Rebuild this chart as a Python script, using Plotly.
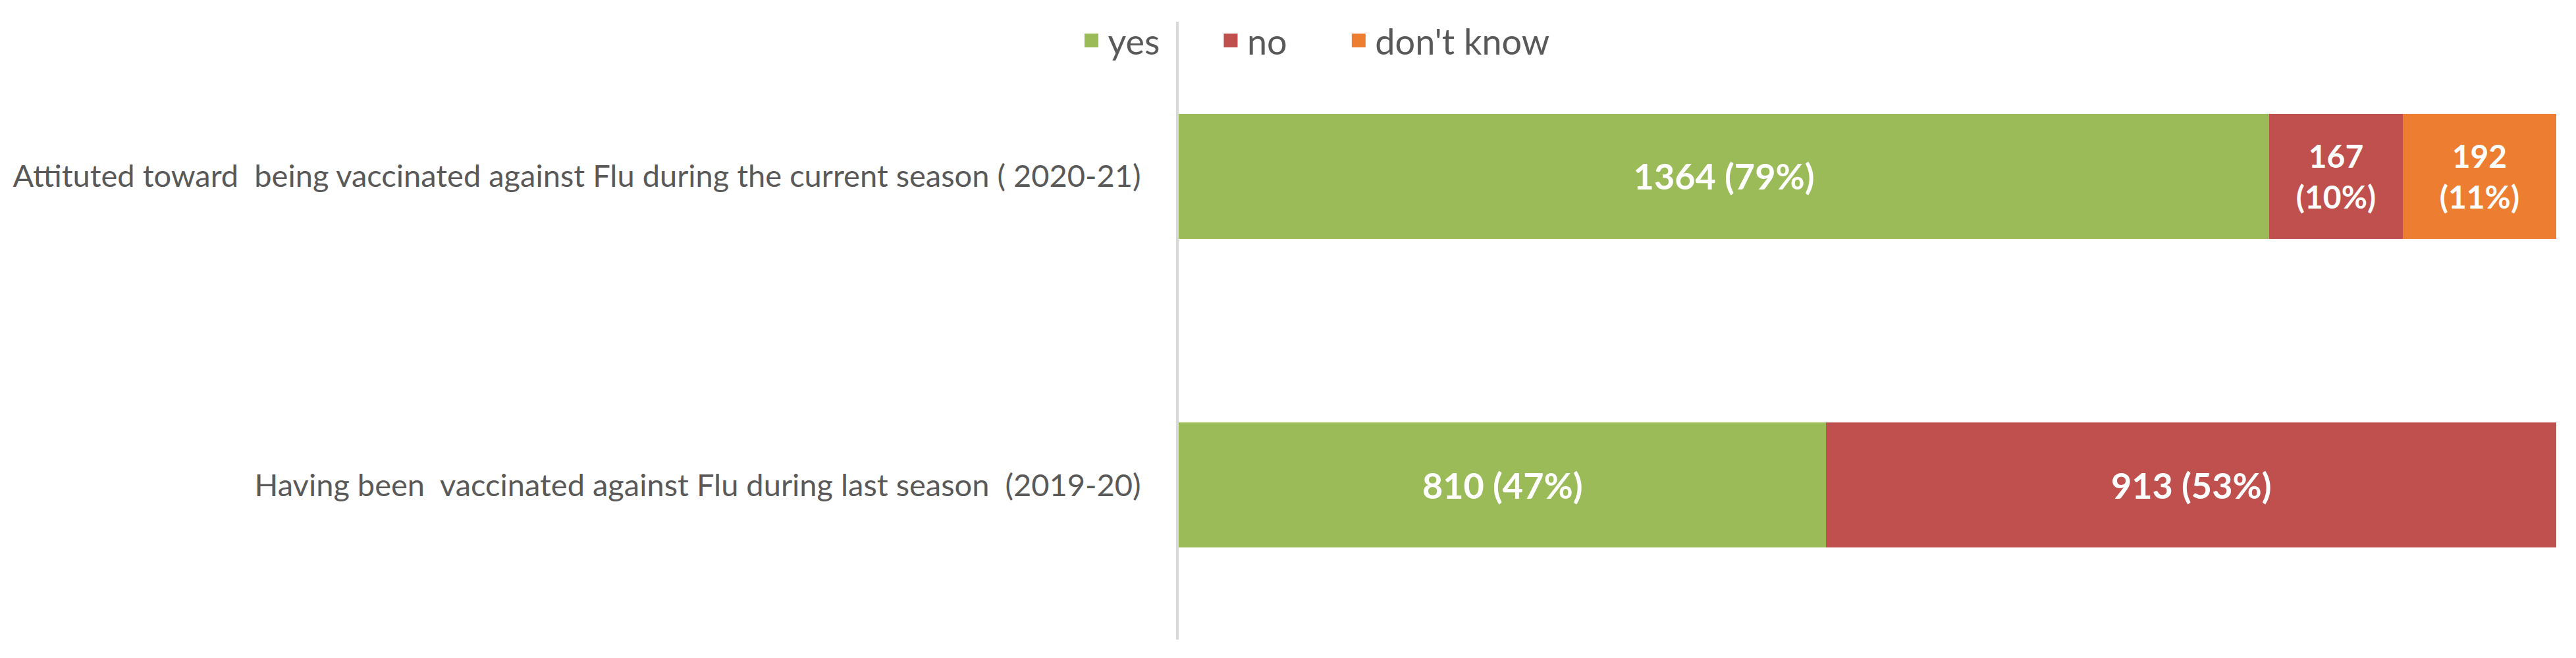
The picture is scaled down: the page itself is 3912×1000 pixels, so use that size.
import plotly.graph_objects as go

categories = [
    "Attituted toward  being vaccinated against Flu during the current season ( 2020-21)",
    "Having been  vaccinated against Flu during last season  (2019-20)",
]
series_names = ["yes", "no", "don't know"]
yes_counts = [1364, 810]
no_counts = [167, 913]
dk_counts = [192, None]
yes_pct = [79, 47]
no_pct = [10, 53]
dk_pct = [11, None]
colors = ["#9BBB59", "#C0504D", "#ED7D31"]

totals = [sum(v for v in vals if v is not None) for vals in zip(yes_counts, no_counts, dk_counts)]


def labels(counts, pcts):
    txt, sizes = [], []
    for c, p, t in zip(counts, pcts, totals):
        if c is None:
            txt.append("")
            sizes.append(48)
        elif c / t < 0.2:
            txt.append(f"{c}<br>({p}%)")
            sizes.append(48)
        else:
            txt.append(f"{c} ({p}%)")
            sizes.append(54)
    return txt, sizes


legend_ids = ["legend", "legend2", "legend3"]
legend_x = [-0.0753, 0.0258, 0.1187]

fig = go.Figure()
for name, counts, pcts, col, lid in zip(series_names, [yes_counts, no_counts, dk_counts],
                                        [yes_pct, no_pct, dk_pct], colors, legend_ids):
    txt, sizes = labels(counts, pcts)
    fig.add_trace(go.Bar(
        name=name, y=categories, x=counts, orientation="h",
        marker=dict(color=col, line=dict(width=0)),
        text=txt, textposition="inside",
        insidetextanchor="middle", textangle=0,
        textfont=dict(family="Lato", size=sizes, color="white", weight="bold"),
        hoverinfo="skip", width=0.405, showlegend=False,
    ))
    # legend key (no data points of its own)
    fig.add_trace(go.Scatter(
        name=name, x=[None], y=[None], mode="markers",
        marker=dict(symbol="square", size=16, color=col, line=dict(width=5, color=col)),
        hoverinfo="skip", showlegend=True, legend=lid,
    ))

legend_common = dict(orientation="h", xanchor="left", y=0.9692, yanchor="middle",
                     font=dict(size=54, color="#595959"), bgcolor="rgba(0,0,0,0)",
                     itemwidth=40)

fig.update_layout(
    width=3912, height=1000,
    barmode="stack",
    paper_bgcolor="white", plot_bgcolor="white",
    margin=dict(l=1777, r=38, t=23, b=36),
    font=dict(family="Lato", color="#595959", size=40),
    legend=dict(x=legend_x[0], **legend_common),
    legend2=dict(x=legend_x[1], **legend_common),
    legend3=dict(x=legend_x[2], **legend_common),
)
fig.update_xaxes(range=[0, max(totals)], visible=False, showgrid=False, zeroline=False)
fig.update_yaxes(categoryorder="array", categoryarray=categories[::-1],
                 range=[-0.5, 1.5],
                 showline=True, linecolor="#D9D9D9", linewidth=4,
                 showgrid=False, zeroline=False, ticks="",
                 tickfont=dict(size=47, color="#595959", family="Lato"),
                 ticklabelstandoff=44)

fig.write_html("out.html")
